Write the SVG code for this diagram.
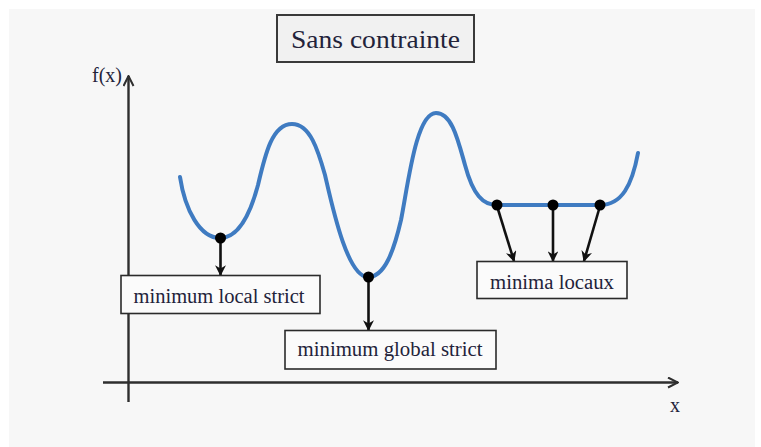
<svg xmlns="http://www.w3.org/2000/svg" width="761" height="447" viewBox="0 0 761 447">
  <style>
    text { fill: #23233a; font-family: 'Liberation Serif', 'Times New Roman', serif; }
    .box { fill: #fbfbfb; stroke: #2b2b2b; stroke-width: 1.6; }
    .axis { stroke: #2e2e2e; stroke-width: 2.4; fill: none; }
    .curve { stroke: #3f7bc1; stroke-width: 4; fill: none; stroke-linecap: round; }
    .link { stroke: #111; stroke-width: 2.6; fill: none; }
    .dot { fill: #000; }
  </style>
  <defs>
    <marker id="head" viewBox="0 0 10 10" refX="9" refY="5" markerWidth="4.2" markerHeight="4.2" orient="auto">
      <path d="M0,0 L10,5 L0,10 L3,5 z" fill="#111"/>
    </marker>
    <marker id="axisHead" viewBox="0 0 12 12" refX="11" refY="6" markerWidth="5" markerHeight="5" orient="auto">
      <path d="M1,1 L11,6 L1,11" fill="none" stroke="#2e2e2e" stroke-width="2"/>
    </marker>
  </defs>

  <!-- page -->
  <rect x="0" y="0" width="761" height="447" fill="#ffffff"/>
  <rect x="9" y="9" width="746" height="438" fill="#f7f7f7"/>

  <!-- title -->
  <g id="title">
    <rect x="277" y="15" width="197" height="47" fill="#f1f1f1" stroke="#3a3a3a" stroke-width="2"/>
    <text x="375.5" y="48" font-size="26" text-anchor="middle" textLength="169" lengthAdjust="spacingAndGlyphs">Sans contrainte</text>
  </g>

  <!-- axes -->
  <g id="axes">
    <line class="axis" x1="128.5" y1="402" x2="128.5" y2="76" marker-end="url(#axisHead)"/>
    <line class="axis" x1="103" y1="382.5" x2="678" y2="382.5" marker-end="url(#axisHead)"/>
    <text x="107" y="82" font-size="20" text-anchor="middle">f(x)</text>
    <text x="675" y="412" font-size="20" text-anchor="middle">x</text>
  </g>

  <!-- function curve -->
  <g id="curve">
    <path class="curve" d="M180,177 C185,210 200,238 220,238 C238,238 250,215 258,185 C265,155 272,124 292,124 C310,124 318,150 325,175 C332,205 347,277 368,277 C385,277 394,250 401,220 C408,185 416,113 436,113 C452,113 458,140 465,165 C473,195 483,205 497,205 L600,205 C622,205 632,185 638,153"/>
  </g>

  <!-- connectors from minima to labels -->
  <g id="connectors">
    <line class="link" x1="220.5" y1="238" x2="220.5" y2="275" marker-end="url(#head)"/>
    <line class="link" x1="368.5" y1="277" x2="368.5" y2="330" marker-end="url(#head)"/>
    <line class="link" x1="497" y1="206" x2="514" y2="261" marker-end="url(#head)"/>
    <line class="link" x1="553" y1="206" x2="553" y2="261" marker-end="url(#head)"/>
    <line class="link" x1="600" y1="206" x2="584" y2="261" marker-end="url(#head)"/>
  </g>

  <!-- minimum points -->
  <g id="points">
    <circle class="dot" cx="220.5" cy="238" r="5.5"/>
    <circle class="dot" cx="368.5" cy="277" r="5.5"/>
    <circle class="dot" cx="497" cy="205" r="5.5"/>
    <circle class="dot" cx="553" cy="205" r="5.5"/>
    <circle class="dot" cx="600" cy="205" r="5.5"/>
  </g>

  <g id="local-strict">
    <rect class="box" x="121" y="275.5" width="199" height="38"/>
    <text x="219" y="303" font-size="20" text-anchor="middle" textLength="171" lengthAdjust="spacingAndGlyphs">minimum local strict</text>
  </g>

  <g id="global-strict">
    <rect class="box" x="285" y="330.5" width="211" height="38.5"/>
    <text x="390" y="356" font-size="20" text-anchor="middle" textLength="185" lengthAdjust="spacingAndGlyphs">minimum global strict</text>
  </g>

  <g id="local-minima">
    <rect class="box" x="477" y="261.5" width="150" height="37"/>
    <text x="552" y="289" font-size="20" text-anchor="middle" textLength="124" lengthAdjust="spacingAndGlyphs">minima locaux</text>
  </g>
</svg>
